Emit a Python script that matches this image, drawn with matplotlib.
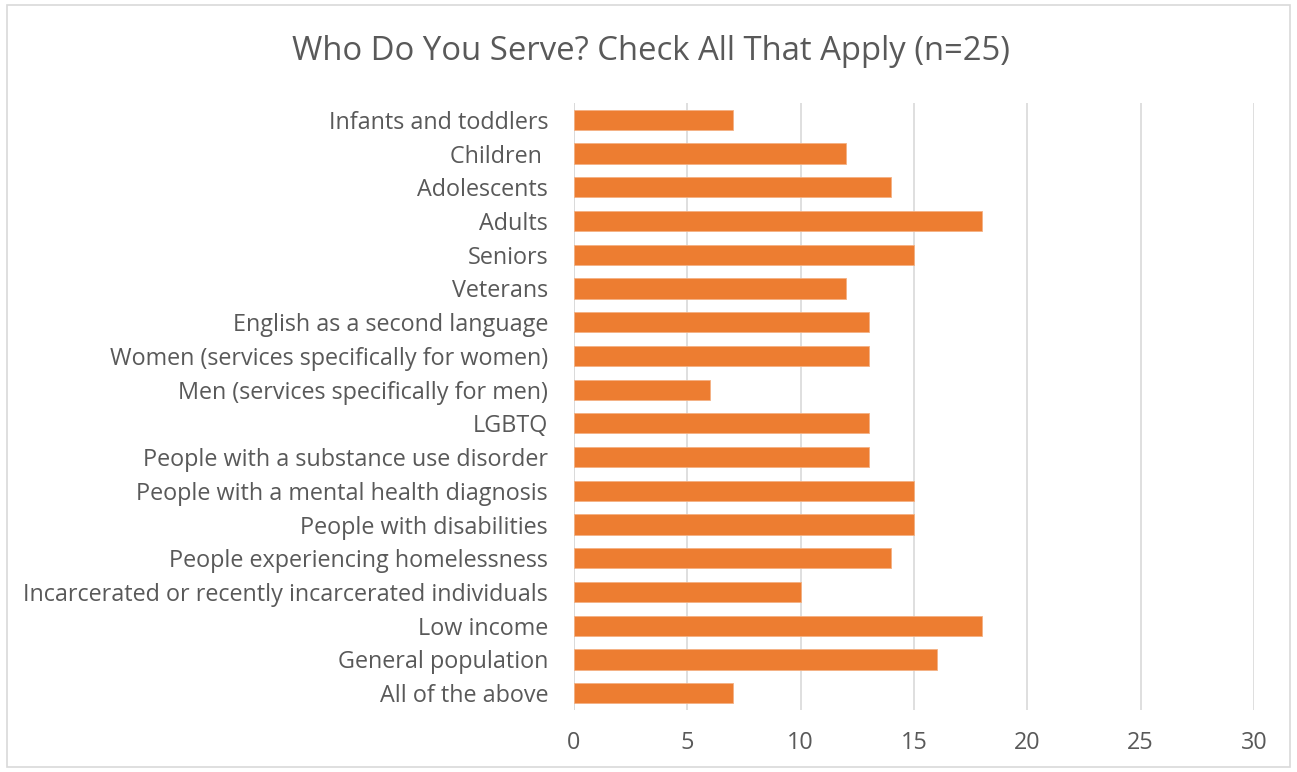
import matplotlib.pyplot as plt
from matplotlib.patches import Rectangle

categories = [
    "Infants and toddlers",
    "Children ",
    "Adolescents",
    "Adults",
    "Seniors",
    "Veterans",
    "English as a second language",
    "Women (services specifically for women)",
    "Men (services specifically for men)",
    "LGBTQ",
    "People with a substance use disorder",
    "People with a mental health diagnosis",
    "People with disabilities",
    "People experiencing homelessness",
    "Incarcerated or recently incarcerated individuals",
    "Low income",
    "General population",
    "All of the above",
]
counts = [7, 12, 14, 18, 15, 12, 13, 13, 6, 13, 13, 15, 15, 14, 10, 18, 16, 7]
x_ticks = [0, 5, 10, 15, 20, 25, 30]

plt.rcParams["font.family"] = ["Open Sans", "DejaVu Sans"]
text_color = "#595959"

fig = plt.figure(figsize=(12.97, 7.72), dpi=100)
ax = fig.add_axes([0.4426, 0.0803, 0.5242, 0.7863])

# bordure autour du graphique
fig.patches.append(Rectangle((7 / 1297, 1 - 767 / 772), 1283 / 1297, 762 / 772,
                             transform=fig.transFigure, fill=False,
                             edgecolor="#d9d9d9", linewidth=1.2))

y = range(len(categories))
ax.barh(y, counts, height=0.6, color="#ED7D31", edgecolor="#f4b183",
        linewidth=0.6, zorder=3)

ax.set_xlim(0, 30)
ax.set_ylim(len(categories) - 0.5, -0.5)
ax.set_xticks(x_ticks)
ax.set_yticks(list(y))
ax.set_yticklabels(categories)
ax.grid(axis="x", color="#d9d9d9", linewidth=1.2, zorder=0)
for s in ax.spines.values():
    s.set_visible(False)
ax.axvline(0, color="#d9d9d9", linewidth=1.2, zorder=1)
ax.tick_params(axis="both", length=0, labelsize=16.8, colors=text_color)
ax.tick_params(axis="y", pad=18.7)
ax.tick_params(axis="x", pad=15)

fig.text(0.502, 1 - 51 / 772, "Who Do You Serve? Check All That Apply (n=25)",
         ha="center", va="center", fontsize=23.7, color=text_color)

fig.savefig("out.png", dpi=100)
